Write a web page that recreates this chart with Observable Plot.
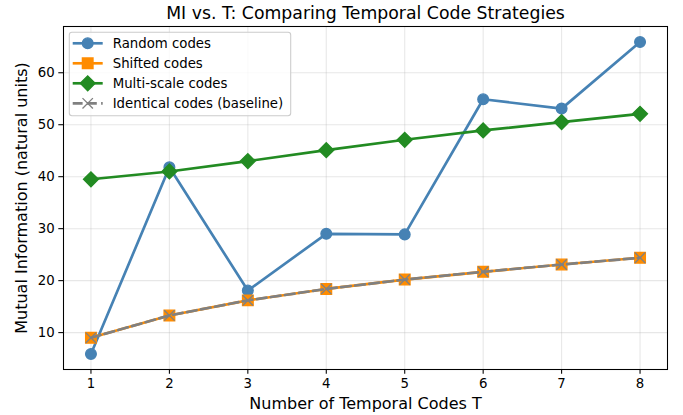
<!DOCTYPE html>
<html>
<head>
<meta charset="utf-8">
<script src="https://cdn.jsdelivr.net/npm/d3@7"></script>
<script src="https://cdn.jsdelivr.net/npm/@observablehq/plot@0.6"></script>
<style>
  html, body { margin: 0; padding: 0; background: white; }
  #wrap { position: relative; width: 683px; height: 415px; font-family: "DejaVu Sans", sans-serif; }
  #legend { position: absolute; left: 0; top: 0; }
</style>
</head>
<body>
<div id="wrap"></div>
<script>
// ---- data ----
const T = [1, 2, 3, 4, 5, 6, 7, 8];
const randomCodes = [5.9, 41.8, 18.1, 29.0, 28.9, 54.9, 53.1, 65.9];
const shiftedCodes = [9.0, 13.3, 16.2, 18.4, 20.2, 21.7, 23.1, 24.4];
const multiScaleCodes = [39.5, 41.0, 43.0, 45.1, 47.1, 48.9, 50.5, 52.1];
const identicalCodes = [9.0, 13.3, 16.2, 18.4, 20.2, 21.7, 23.1, 24.4];
const seriesNames = ["Random codes", "Shifted codes", "Multi-scale codes", "Identical codes (baseline)"];
const seriesColors = ["#4682b4", "#ff8c00", "#228b22", "#808080"];
const yTicks = [10, 20, 30, 40, 50, 60];
const titleText = "MI vs. T: Comparing Temporal Code Strategies";
const xLabel = "Number of Temporal Codes T";
const yLabel = "Mutual Information (natural units)";

const rows = (vals) => T.map((t, i) => ({T: t, MI: vals[i]}));
const rRandom = rows(randomCodes), rShifted = rows(shiftedCodes),
      rMulti = rows(multiScaleCodes), rIdent = rows(identicalCodes);

const LW = 2.67, EW = 1.33;
const grid = {stroke: "#b0b0b0", strokeOpacity: 0.3, strokeWidth: 1.07};

const chart = Plot.plot({
  width: 683, height: 415,
  marginLeft: 63, marginRight: 16, marginTop: 26, marginBottom: 46,
  style: {fontFamily: "DejaVu Sans", fontSize: "13.3px", background: "white", color: "black"},
  x: {domain: [0.65, 8.35]},
  y: {domain: [2.9, 68.9]},
  marks: [
    Plot.gridX(T, grid),
    Plot.gridY(yTicks, grid),
    Plot.axisX(T, {tickSize: 4.7, tickPadding: 4.2, tickFormat: d => String(d), label: null, fontSize: 13.3, strokeWidth: 1.07}),
    Plot.axisY(yTicks, {tickSize: 4.7, tickPadding: 4.2, label: null, fontSize: 13.3, strokeWidth: 1.07}),
    Plot.line(rRandom, {x: "T", y: "MI", stroke: seriesColors[0], strokeWidth: LW}),
    Plot.dot(rRandom, {x: "T", y: "MI", symbol: "circle", r: 5.35, fill: seriesColors[0], stroke: seriesColors[0], strokeWidth: EW}),
    Plot.line(rShifted, {x: "T", y: "MI", stroke: seriesColors[1], strokeWidth: LW}),
    Plot.dot(rShifted, {x: "T", y: "MI", symbol: "square", r: 6.0, fill: seriesColors[1], stroke: seriesColors[1], strokeWidth: EW}),
    Plot.line(rMulti, {x: "T", y: "MI", stroke: seriesColors[2], strokeWidth: LW}),
    Plot.dot(rMulti, {x: "T", y: "MI", symbol: "diamond2", r: 6.7, fill: seriesColors[2], stroke: seriesColors[2], strokeWidth: EW}),
    Plot.line(rIdent, {x: "T", y: "MI", stroke: seriesColors[3], strokeWidth: LW, strokeDasharray: "9.9,4.3"}),
    Plot.dot(rIdent, {x: "T", y: "MI", symbol: "times", r: 4.8, stroke: seriesColors[3], strokeWidth: EW}),
    Plot.frame({stroke: "black", strokeWidth: 1.07}),
    Plot.text([titleText], {frameAnchor: "top", textAnchor: "middle", lineAnchor: "top", dy: -19.5, fontSize: 17.3, fill: "black"}),
    Plot.text([xLabel], {frameAnchor: "bottom", textAnchor: "middle", lineAnchor: "top", dy: 28, fontSize: 16, fill: "black"}),
    Plot.text([yLabel], {frameAnchor: "left", textAnchor: "middle", lineAnchor: "top", rotate: -90, dx: -48, fontSize: 16, fill: "black"})
  ]
});
document.getElementById("wrap").appendChild(chart);

// ---- legend ----
const lg = d3.select("#wrap").append("svg").attr("id", "legend")
  .attr("width", 683).attr("height", 415).style("pointer-events", "none");
lg.append("rect").attr("x", 69.3).attr("y", 32.3).attr("width", 221.4).attr("height", 83.4)
  .attr("rx", 2.7).attr("fill", "white").attr("fill-opacity", 0.8)
  .attr("stroke", "#cccccc").attr("stroke-width", 1.07);
const symbols = [d3.symbolCircle, d3.symbolSquare, d3.symbolDiamond2, d3.symbolTimes];
const symSizes = [Math.PI * 5.35 * 5.35, Math.PI * 36, Math.PI * 6.7 * 6.7, Math.PI * 4.8 * 4.8];
seriesNames.forEach((name, i) => {
  const cy = 43.3 + i * 20;
  const g = lg.append("g");
  g.append("line").attr("x1", 72.7).attr("x2", 102.7).attr("y1", cy).attr("y2", cy)
    .attr("stroke", seriesColors[i]).attr("stroke-width", LW)
    .attr("stroke-dasharray", i === 3 ? "9.9,4.3" : null);
  g.append("path").attr("d", d3.symbol(symbols[i], symSizes[i])())
    .attr("transform", `translate(87.7,${cy})`)
    .attr("fill", i === 3 ? "none" : seriesColors[i])
    .attr("stroke", seriesColors[i]).attr("stroke-width", EW);
  g.append("text").attr("x", 112.7).attr("y", cy).attr("dy", "0.35em")
    .attr("font-family", "DejaVu Sans").attr("font-size", 13.3).attr("fill", "black").text(name);
});
</script>
</body>
</html>
